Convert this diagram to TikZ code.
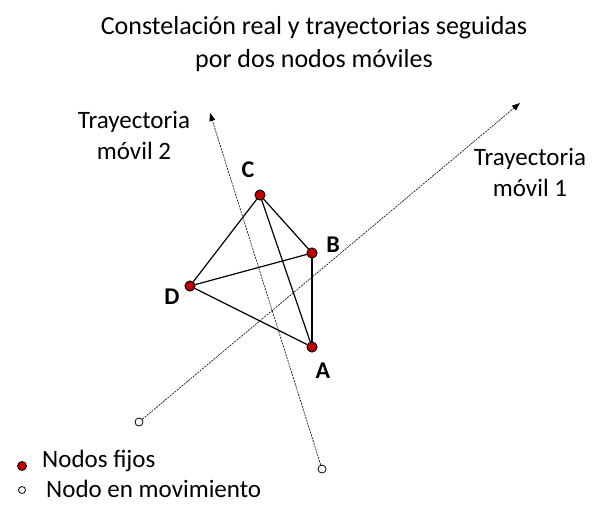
\documentclass[tikz,border=0pt]{standalone}
\usepackage{fontspec}
\setmainfont{Carlito}
\usepackage{tikz}
\usetikzlibrary{shapes, positioning}
\usetikzlibrary{arrows.meta}
\definecolor{nodered}{RGB}{192,0,0}

\begin{document}
\begin{tikzpicture}[x=1pt, y=-1pt,
		fijo/.style={circle, draw, fill=nodered, inner sep=0pt, minimum size=10pt, line width=0.8pt},
		movil/.style={circle, draw, fill=white, inner sep=0pt, minimum size=8pt, line width=0.8pt},
		tray/.style={line width=0.6pt, dash pattern=on 2pt off 1pt, -{Triangle[length=8pt, width=6pt]}},
		etiq/.style={font=\fontsize{24}{28}\selectfont\bfseries},
		texto/.style={font=\fontsize{25}{31}\selectfont, align=center, inner sep=0pt}]
		\useasboundingbox (0,0) rectangle (593,504);
		% titulo
		\node[texto, font=\fontsize{26}{33}\selectfont] (titulo) at (314,44) {Constelación real y trayectorias seguidas\\por dos nodos móviles};
		% nodos fijos
		\node[fijo] (C) at (260,195) {};
		\node[fijo] (B) at (312,253) {};
		\node[fijo] (D) at (190,286) {};
		\node[fijo] (A) at (312,347) {};
		% nodos moviles
		\node[movil] (m1) at (139,422) {};
		\node[movil] (m2) at (322,469) {};
		\coordinate (f1) at (520,103);
		\coordinate (f2) at (210,113);
		\draw[tray] (m1) -- (f1);
		\draw[tray] (m2) -- (f2);
		% enlaces
		\foreach \a/\b in {C/D, C/B, C/A, B/D, B/A, D/A} {
			\draw[line width=1.2pt] (\a) -- (\b);
		}
		\foreach \n in {A,B,C,D} {
			\node[fijo] at (\n) {};
		}
		\node[etiq] (lC) at (248,170) {C};
		\node[etiq] (lB) at (333,245) {B};
		\node[etiq] (lD) at (172,297) {D};
		\node[etiq] (lA) at (323,371) {A};
		\node[texto] (t2) at (134,135) {Trayectoria\\móvil 2};
		\node[texto] (t1) at (530,172) {Trayectoria\\móvil 1};
		% leyenda
		\node[fijo, minimum size=9pt] (lf) at (22,466) {};
		\node[movil, minimum size=7pt] (lm) at (22,490) {};
		\node[texto, anchor=base west] (tf) at (42,467) {Nodos fijos};
		\node[texto, anchor=base west] (tm) at (46,497) {Nodo en movimiento};
	\end{tikzpicture}
\end{document}
